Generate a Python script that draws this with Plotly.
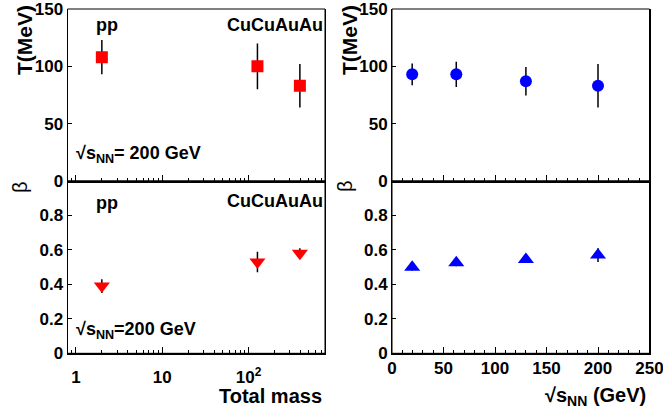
import plotly.graph_objects as go

# ---- data ----
systems = ["pp", "CuCu", "AuAu"]
total_mass = [2, 127, 394]
T_mass = [108, 100, 83]
T_mass_err = [15, 20, 19]
beta_mass = [0.39, 0.53, 0.58]
beta_mass_err = [0.04, 0.06, 0.03]

energies = [19.6, 62.4, 130, 200]
T_energy = [93, 93, 87, 83]
T_energy_err = [9.5, 11, 12.5, 19]
beta_energy = [0.50, 0.525, 0.545, 0.57]
beta_energy_err = [0.02, 0.02, 0.02, 0.04]

W, H = 663, 411
def px(x):
    return x / W
def py(y):
    return (H - y) / H

FONT = "Liberation Sans, Arial, sans-serif"
tickfont = dict(family=FONT, size=17, color="black", weight="bold")

xL = [px(67.5), px(325)]
xR = [px(392), px(649.5)]
yT = [py(181), py(9)]
yB = [py(353.3), py(181)]

fig = go.Figure()
eb = dict(type="data", color="black", thickness=1.5, width=0)

fig.add_trace(go.Scatter(x=total_mass, y=T_mass, mode="markers",
                         error_y=dict(array=T_mass_err, **eb),
                         marker=dict(symbol="square", size=12, color="#ff0000"),
                         xaxis="x", yaxis="y", showlegend=False))
fig.add_trace(go.Scatter(x=energies, y=T_energy, mode="markers",
                         error_y=dict(array=T_energy_err, **eb),
                         marker=dict(symbol="circle", size=12, color="#0000ff"),
                         xaxis="x2", yaxis="y2", showlegend=False))
fig.add_trace(go.Scatter(x=total_mass, y=beta_mass, mode="markers",
                         error_y=dict(array=beta_mass_err, **eb),
                         marker=dict(symbol="triangle-down", size=14, color="#ff0000"),
                         xaxis="x3", yaxis="y3", showlegend=False))
fig.add_trace(go.Scatter(x=energies, y=beta_energy, mode="markers",
                         error_y=dict(array=beta_energy_err, **eb),
                         marker=dict(symbol="triangle-up", size=14, color="#0000ff"),
                         xaxis="x4", yaxis="y4", showlegend=False))

log_minor = [m * 10 ** e for e in range(-1, 3) for m in range(2, 10)
             if 0.8 <= m * 10 ** e <= 770]
log_range = [-0.0969, 2.8865]

def xlog(domain, anchor, labels):
    return dict(domain=domain, anchor=anchor, type="log", range=log_range,
                tickmode="array", tickvals=[1, 10, 100],
                ticktext=["1", "10", "10<sup>2</sup>"], showticklabels=labels,
                ticks="inside", ticklen=6, tickwidth=1, tickcolor="black",
                minor=dict(tickmode="array", tickvals=log_minor, ticks="inside",
                           ticklen=3, tickcolor="black", showgrid=False),
                showline=True, linewidth=2, linecolor="black", mirror=False,
                showgrid=False, zeroline=False, tickfont=tickfont,
                ticklabelstandoff=7, automargin=False, ticklabeloverflow="allow")

def xlin(domain, anchor, labels):
    return dict(domain=domain, anchor=anchor, range=[0, 250],
                tickmode="linear", tick0=0, dtick=50, showticklabels=labels,
                ticks="inside", ticklen=6, tickwidth=1, tickcolor="black",
                minor=dict(dtick=10, ticks="inside", ticklen=3,
                           tickcolor="black", showgrid=False),
                showline=True, linewidth=2, linecolor="black", mirror=False,
                showgrid=False, zeroline=False, tickfont=tickfont,
                ticklabelstandoff=-2, automargin=False, ticklabeloverflow="allow")

def yax(domain, anchor, rng, vals, text):
    return dict(domain=domain, anchor=anchor, range=rng, tickmode="array",
                tickvals=vals, ticktext=text, ticks="inside", ticklen=4,
                tickcolor="black", showline=True, linewidth=1, linecolor="black",
                mirror=True, showgrid=False, zeroline=False, tickfont=tickfont,
                automargin=False, ticklabeloverflow="allow")

T_ticks = [0, 50, 100, 150]
b_ticks = [0, 0.2, 0.4, 0.6, 0.8]
b_text = ["0", "0.2", "0.4", "0.6", "0.8"]

fig.update_layout(
    width=W, height=H, margin=dict(l=0, r=0, t=0, b=0),
    paper_bgcolor="white", plot_bgcolor="white",
    xaxis=xlog(xL, "y", False),
    yaxis=yax(yT, "x", [0, 150], T_ticks, ["0", "50", "100", "150"]),
    xaxis2=xlin(xR, "y2", False),
    yaxis2=yax(yT, "x2", [0, 150], T_ticks, ["0", "50", "100", "150"]),
    xaxis3=xlog(xL, "y3", True),
    yaxis3=yax(yB, "x3", [0, 1], b_ticks, b_text),
    xaxis4=xlin(xR, "y4", True),
    yaxis4=yax(yB, "x4", [0, 1], b_ticks, b_text),
)

# frames (top edges)
for xa, ya in [("x", "y"), ("x2", "y2"), ("x3", "y3"), ("x4", "y4")]:
    fig.add_shape(type="rect", xref=f"{xa} domain", yref=f"{ya} domain",
                  x0=0, x1=1, y0=0, y1=1, line=dict(color="black", width=1))

def ann(text, x, y, size=18, xanchor="left", yanchor="middle", angle=0, bold=True):
    fig.add_annotation(text=text, x=px(x), y=py(y), xref="paper", yref="paper",
                       xanchor=xanchor, yanchor=yanchor, textangle=angle,
                       showarrow=False,
                       font=dict(family=FONT, size=size, color="black",
                                 weight="bold" if bold else "normal"))

ann("pp", 107, 25, xanchor="center")
ann("CuCuAuAu", 325, 25, xanchor="right")
ann("√s<sub>NN</sub>= 200 GeV", 74, 154)
ann("pp", 107, 203, xanchor="center")
ann("CuCuAuAu", 325, 201, xanchor="right")
ann("√s<sub>NN</sub>=200 GeV", 74, 330)

ann("T(MeV)", 24, 40, size=21, xanchor="center", angle=-90)
ann("T(MeV)", 349, 40, size=21, xanchor="center", angle=-90)
ann("β", 20, 187, size=20, xanchor="center", angle=-90, bold=False)
ann("β", 345, 186, size=20, xanchor="center", angle=-90, bold=False)

ann("Total mass", 324, 396, size=20, xanchor="right")
ann("√s<sub>NN</sub> (GeV)", 648, 396, size=20, xanchor="right")

fig.write_html("out.html", config={"displayModeBar": False},
               post_script="document.body.style.margin='0';document.body.style.overflow='hidden';")
